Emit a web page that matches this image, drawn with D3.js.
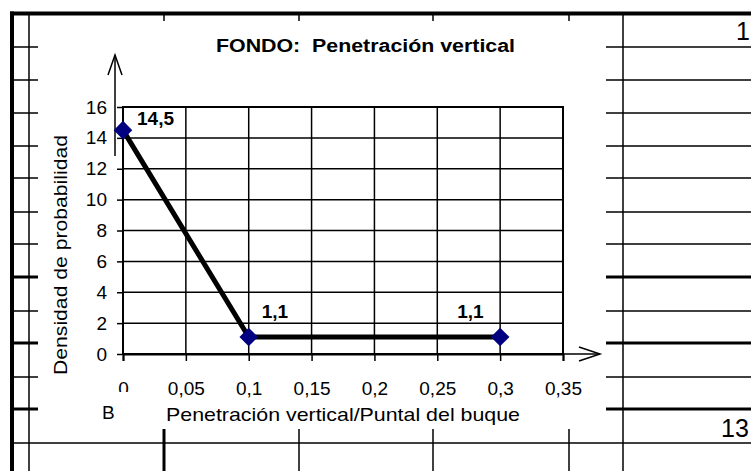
<!DOCTYPE html>
<html>
<head>
<meta charset="utf-8">
<script src="https://cdn.jsdelivr.net/npm/d3@7"></script>
<style>
  body { margin: 0; background: #fff; }
  svg { display: block; font-family: "Liberation Sans", Arial, sans-serif; }
</style>
</head>
<body>
<div id="chart"></div>
<script>
const chartTitle = "FONDO:  Penetración vertical";
const xTitle = "Penetración vertical/Puntal del buque";
const yTitle = "Densidad de probabilidad";
const xTicks = [0, 0.05, 0.1, 0.15, 0.2, 0.25, 0.3, 0.35];
const xTickLabels = ["0", "0,05", "0,1", "0,15", "0,2", "0,25", "0,3", "0,35"];
const yTicks = [0, 2, 4, 6, 8, 10, 12, 14, 16];
const xValues = [0, 0.1, 0.3];
const yValues = [14.5, 1.1, 1.1];
const pointLabels = ["14,5", "1,1", "1,1"];

const width = 751;
const height = 471;
const plotLeft = 123;
const plotRight = 563;
const plotTop = 107;
const plotBottom = 354;

const svg = d3.select('#chart')
  .append('svg')
  .attr('width', width)
  .attr('height', height);

//Spreadsheet cells behind the chart
const rowLines = [47, 80, 113, 146, 178, 212, 244, 277, 311, 343, 377, 409];
const thickRows = [277, 343, 409];
const colTicks = [164, 299, 433, 569];

const sheet = svg.append('g').attr('stroke', '#000');

sheet.append('line').attr('x1', 10).attr('x2', width).attr('y1', 13.5).attr('y2', 13.5).attr('stroke-width', 4);
sheet.append('line').attr('x1', 12).attr('x2', 12).attr('y1', 11.5).attr('y2', height).attr('stroke-width', 4);
sheet.append('line').attr('x1', 29).attr('x2', 29).attr('y1', 15).attr('y2', height).attr('stroke-width', 1.5);
sheet.append('line').attr('x1', 623).attr('x2', 623).attr('y1', 15).attr('y2', height).attr('stroke-width', 1.5);
sheet.append('line').attr('x1', 14).attr('x2', width).attr('y1', 443).attr('y2', 443).attr('stroke-width', 1.5);

rowLines.forEach(y => {
  const w = thickRows.includes(y) ? 3 : 1.5;
  sheet.append('line').attr('x1', 14).attr('x2', 38).attr('y1', y).attr('y2', y).attr('stroke-width', w);
  sheet.append('line').attr('x1', 606).attr('x2', width).attr('y1', y).attr('y2', y).attr('stroke-width', w);
});

colTicks.forEach((x, i) => {
  sheet.append('line').attr('x1', x).attr('x2', x).attr('y1', 15).attr('y2', 21).attr('stroke-width', 1.5);
  sheet.append('line').attr('x1', x).attr('x2', x).attr('y1', 429).attr('y2', height).attr('stroke-width', i == 0 ? 3 : 1.5);
});

svg.append('text').attr('x', 736).attr('y', 40).attr('font-size', 25).text('1');
svg.append('text').attr('x', 721).attr('y', 437).attr('font-size', 25).text('13');
svg.append('text').attr('x', 102).attr('y', 419).attr('font-size', 19).text('B');

//Scales
const x = d3.scaleLinear().domain([0, 0.35]).range([plotLeft, plotRight]);
const y = d3.scaleLinear().domain([0, 16]).range([plotBottom, plotTop]);

//Grid
svg.append('g')
  .selectAll('line')
  .data(yTicks)
  .enter().append('line')
  .attr('x1', plotLeft).attr('x2', plotRight)
  .attr('y1', d => y(d)).attr('y2', d => y(d))
  .attr('stroke', '#000').attr('stroke-width', 1.5);

svg.append('g')
  .selectAll('line')
  .data(xTicks)
  .enter().append('line')
  .attr('x1', d => x(d)).attr('x2', d => x(d))
  .attr('y1', plotTop).attr('y2', plotBottom)
  .attr('stroke', '#000').attr('stroke-width', 1.5);

svg.append('rect')
  .attr('x', plotLeft).attr('y', plotTop)
  .attr('width', plotRight - plotLeft).attr('height', plotBottom - plotTop)
  .attr('fill', 'none').attr('stroke', '#000').attr('stroke-width', 2);

//Axes
const yAxis = d3.axisLeft(y)
  .tickValues(yTicks)
  .tickSize(6)
  .tickPadding(10)
  .tickFormat(d => d);

svg.append('g')
  .attr('transform', `translate(${plotLeft},0)`)
  .call(yAxis)
  .call(g => g.select('.domain').remove())
  .call(g => g.selectAll('line').attr('stroke-width', 1.5))
  .call(g => g.selectAll('text').attr('font-size', 19).attr('font-family', null).attr('fill', '#000'));

const xAxis = d3.axisBottom(x)
  .tickValues(xTicks)
  .tickSize(7)
  .tickFormat((d, i) => xTickLabels[i]);

svg.append('defs').append('clipPath').attr('id', 'zeroClip')
  .append('rect').attr('x', -20).attr('y', 0).attr('width', 40).attr('height', 38);

svg.append('g')
  .attr('transform', `translate(0,${plotBottom})`)
  .call(xAxis)
  .call(g => g.select('.domain').attr('stroke-width', 2))
  .call(g => g.selectAll('line').attr('stroke-width', 1.5))
  .call(g => g.selectAll('text')
    .attr('font-size', 19).attr('font-family', null).attr('fill', '#000')
    .attr('dy', null).attr('y', 41)
    .attr('clip-path', (d, i) => i == 0 ? 'url(#zeroClip)' : null));

//Arrows
const arrows = svg.append('g').attr('stroke', '#000').attr('stroke-width', 1.5).attr('fill', 'none');
arrows.append('line').attr('x1', 115).attr('x2', 115).attr('y1', 156).attr('y2', 55);
arrows.append('polyline').attr('points', '108,75 115,55 122,75');
arrows.append('line').attr('x1', 500).attr('x2', 600).attr('y1', plotBottom).attr('y2', plotBottom);
arrows.append('polyline').attr('points', '579,347 600,354 579,361');

//Series
const points = xValues.map((d, i) => [d, yValues[i]]);

svg.append('path')
  .datum(points)
  .attr('d', d3.line().x(d => x(d[0])).y(d => y(d[1])))
  .attr('fill', 'none')
  .attr('stroke', '#000')
  .attr('stroke-width', 5);

svg.append('g')
  .selectAll('path')
  .data(points)
  .enter().append('path')
  .attr('transform', d => `translate(${x(d[0])},${y(d[1])})`)
  .attr('d', d3.symbol().type(d3.symbolDiamond2).size(220))
  .attr('fill', '#000080');

const labelOffsets = [[14, -5], [13, -19], [-43, -19]];
svg.append('g')
  .selectAll('text')
  .data(points)
  .enter().append('text')
  .attr('x', (d, i) => x(d[0]) + labelOffsets[i][0])
  .attr('y', (d, i) => y(d[1]) + labelOffsets[i][1])
  .attr('font-size', 19)
  .attr('font-weight', 'bold')
  .text((d, i) => pointLabels[i]);

//Titles
svg.append('text')
  .attr('x', 216).attr('y', 52)
  .attr('font-size', 18).attr('font-weight', 'bold')
  .attr('textLength', 299).attr('lengthAdjust', 'spacingAndGlyphs')
  .attr('xml:space', 'preserve')
  .style('white-space', 'pre')
  .text(chartTitle);

svg.append('text')
  .attr('x', 166).attr('y', 421)
  .attr('font-size', 19)
  .attr('textLength', 354).attr('lengthAdjust', 'spacingAndGlyphs')
  .text(xTitle);

svg.append('text')
  .attr('transform', 'translate(67,375) rotate(-90)')
  .attr('font-size', 19)
  .attr('textLength', 240).attr('lengthAdjust', 'spacingAndGlyphs')
  .text(yTitle);
</script>
</body>
</html>
